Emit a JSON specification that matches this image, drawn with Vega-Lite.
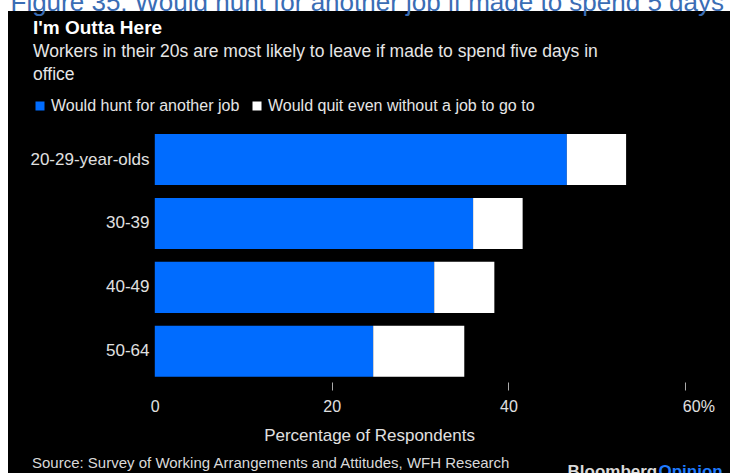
{
  "$schema": "https://vega.github.io/schema/vega-lite/v6.json",
  "width": 722,
  "height": 462,
  "autosize": {"type": "none"},
  "padding": {"left": 8, "top": 11, "right": 0, "bottom": 0},
  "background": "#ffffff",
  "title": {
    "text": "I'm Outta Here",
    "subtitle": ["Workers in their 20s are most likely to leave if made to spend five days in", "office"],
    "anchor": "start",
    "frame": "group",
    "orient": "top",
    "offset": -94,
    "dx": 25,
    "font": "Liberation Sans",
    "fontSize": 19,
    "fontWeight": "bold",
    "color": "#ffffff",
    "subtitleFont": "Liberation Sans",
    "subtitleFontSize": 17.5,
    "subtitleColor": "#e6e6e6",
    "subtitleLineHeight": 23,
    "subtitlePadding": 5
  },
  "data": {
    "values": [
      {"age": "20-29-year-olds", "series": "Would hunt for another job", "pct": 46.6},
      {"age": "20-29-year-olds", "series": "Would quit even without a job to go to", "pct": 6.7},
      {"age": "30-39", "series": "Would hunt for another job", "pct": 36.0},
      {"age": "30-39", "series": "Would quit even without a job to go to", "pct": 5.6},
      {"age": "40-49", "series": "Would hunt for another job", "pct": 31.6},
      {"age": "40-49", "series": "Would quit even without a job to go to", "pct": 6.8},
      {"age": "50-64", "series": "Would hunt for another job", "pct": 24.7},
      {"age": "50-64", "series": "Would quit even without a job to go to", "pct": 10.3}
    ]
  },
  "layer": [
    {
      "mark": {"type": "bar"},
      "encoding": {
        "y": {
          "field": "age",
          "type": "nominal",
          "sort": ["20-29-year-olds", "30-39", "40-49", "50-64"],
          "scale": {"paddingInner": 0.2, "paddingOuter": 0.1, "range": [116.6, 372.2]},
          "axis": {
            "orient": "left",
            "title": "Figure 35: Would hunt for another job if made to spend 5 days in office",
            "titleX": 2,
            "titleY": -1,
            "titleAngle": 0,
            "titleAlign": "left",
            "titleBaseline": "alphabetic",
            "titleFont": "Liberation Sans",
            "titleFontSize": 26,
            "titleFontWeight": "normal",
            "titleColor": "#3a6db5",
            "titleLimit": 0,
            "domain": false,
            "ticks": false,
            "tickSize": 0,
            "grid": false,
            "labelPadding": -141,
            "labelAlign": "right",
            "labelFont": "Liberation Sans",
            "labelFontSize": 17,
            "labelColor": "#e0e0e0"
          }
        },
        "x": {
          "field": "pct",
          "type": "quantitative",
          "stack": "zero",
          "scale": {"domain": [-16.6, 65.05], "nice": false, "zero": false},
          "axis": {
            "orient": "bottom",
            "offset": -91,
            "values": [0, 20, 40, 60],
            "labelExpr": "datum.value == 60 ? '60%' : datum.label",
            "labelOffset": {"condition": {"test": "datum.value == 60", "value": 13}, "value": 0},
            "tickOpacity": {"condition": {"test": "datum.value == 0", "value": 0}, "value": 1},
            "tickSize": 8,
            "tickColor": "#aaaaaa",
            "tickWidth": 1,
            "domain": false,
            "grid": false,
            "labelPadding": 8,
            "labelFont": "Liberation Sans",
            "labelFontSize": 16,
            "labelColor": "#e0e0e0",
            "title": "Percentage of Respondents",
            "titleFont": "Liberation Sans",
            "titleFontSize": 17,
            "titleFontWeight": "normal",
            "titleColor": "#e0e0e0",
            "titleY": 58,
            "titleBaseline": "alphabetic"
          }
        },
        "color": {
          "field": "series",
          "type": "nominal",
          "scale": {
            "domain": ["Would hunt for another job", "Would quit even without a job to go to"],
            "range": ["#006cff", "#ffffff"]
          },
          "legend": {
            "orient": "none",
            "legendX": 24,
            "legendY": 87,
            "direction": "horizontal",
            "padding": 0,
            "symbolType": "square",
            "symbolSize": 81,
            "symbolStrokeWidth": 0,
            "symbolOpacity": 1,
            "labelFont": "Liberation Sans",
            "labelFontSize": 16,
            "labelColor": "#e6e6e6",
            "labelOffset": 3,
            "labelLimit": 0,
            "columnPadding": 9,
            "title": "Source: Survey of Working Arrangements and Attitudes, WFH Research",
            "titleOrient": "bottom",
            "titleAnchor": "start",
            "titleBaseline": "alphabetic",
            "titlePadding": 354,
            "titleFont": "Liberation Sans",
            "titleFontSize": 15,
            "titleFontWeight": "normal",
            "titleColor": "#d9d9d9",
            "titleLimit": 0
          }
        }
      }
    },
    {
      "mark": {"type": "bar", "opacity": 0},
      "encoding": {
        "y": {
          "field": "age",
          "type": "nominal",
          "sort": ["20-29-year-olds", "30-39", "40-49", "50-64"],
          "axis": {
            "orient": "right",
            "title": "Bloomberg",
            "titleX": -163,
            "titleY": 465,
            "titleAngle": 0,
            "titleAlign": "left",
            "titleBaseline": "alphabetic",
            "titleFont": "Liberation Sans",
            "titleFontSize": 17,
            "titleFontWeight": "bold",
            "titleColor": "#d9d9d9",
            "labels": false,
            "ticks": false,
            "domain": false,
            "grid": false
          }
        },
        "x": {
          "field": "pct",
          "type": "quantitative",
          "stack": null,
          "axis": {
            "orient": "top",
            "title": "Opinion",
            "titleX": 650,
            "titleY": 465,
            "titleAlign": "left",
            "titleBaseline": "alphabetic",
            "titleFont": "Liberation Sans",
            "titleFontSize": 17,
            "titleFontWeight": "bold",
            "titleColor": "#1f7bff",
            "labels": false,
            "ticks": false,
            "domain": false,
            "grid": false
          }
        }
      }
    }
  ],
  "resolve": {"axis": {"x": "independent", "y": "independent"}},
  "config": {
    "view": {"fill": "#000000", "stroke": null},
    "font": "Liberation Sans",
    "axis": {"grid": false, "domain": false}
  }
}
